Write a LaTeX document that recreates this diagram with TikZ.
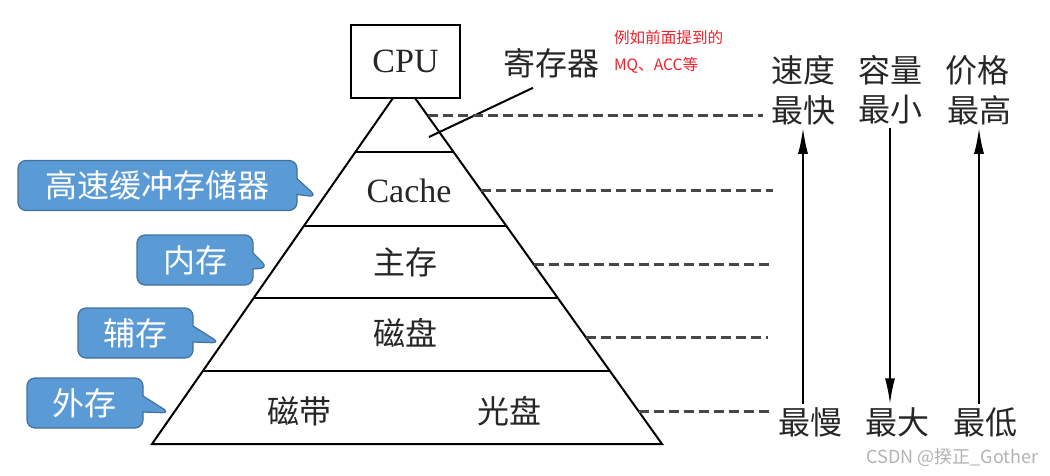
\documentclass[tikz,border=0pt]{standalone}
\usepackage{fontspec}
\setmainfont{Liberation Serif}
\newfontfamily\cjk{Noto Sans CJK SC}
\usepackage{xcolor}
\usetikzlibrary{positioning,arrows.meta,calc,shapes.callouts}
\definecolor{tagfill}{HTML}{5B9BD5}
\definecolor{tagedge}{HTML}{41719C}
\definecolor{notered}{HTML}{F0202A}

\begin{document}
\begin{tikzpicture}[x=0.5pt, y=-0.5pt,
  line width=1pt,
  big/.style={font=\fontsize{17}{19}\selectfont, text=black!85, inner sep=1pt},
  han/.style={font=\cjk\fontsize{16}{18}\selectfont, text=black!85, inner sep=1pt},
  note/.style={font=\cjk\fontsize{7.8}{9}\selectfont, text=notered, inner sep=1pt, anchor=west},
  tag/.style={rectangle callout, draw=tagedge, fill=tagfill, rounded corners=4pt, line width=0.6pt,
    text=white, font=\cjk\fontsize{16}{18}\selectfont, minimum height=25pt, callout pointer width=8pt},
  guide/.style={dash pattern=on 5pt off 2.5pt, line width=1.5pt, black!72},
  >={Latex[length=13pt,width=5pt]}]
\useasboundingbox (0,0) rectangle (1050,476);
% CPU on top of the pyramid
\node[draw, minimum width=54.5pt, minimum height=36.5pt, big] (cpu) at (405.5,61.5) {CPU};
\coordinate (tl) at (393,98);
\coordinate (tr) at (415,98);
\coordinate (bl) at (152,444);
\coordinate (br) at (662,444);
\draw (tl) -- (bl) -- (br) -- (tr);
\foreach \f in {0.156,0.370,0.578,0.789}
  \draw ($(tl)!\f!(bl)$) -- ($(tr)!\f!(br)$);
% levels
\node[han] (reg) at (551,63) {寄存器};
\coordinate (regtip) at (429,137);
\draw ([xshift=-9pt,yshift=-3.5pt]reg.south) -- (regtip);
\node[big] (cache) at (409,191) {Cache};
\node[han] (main) at (405,262) {主存};
\node[han] (disk) at (405,333) {磁盘};
\node[han] (tape) at (299,411) {磁带};
\node[han] (optic) at (509,411) {光盘};
\node[note] (note1) at (611,38) {例如前面提到的};
\node[note] (note2) at (611,65) {MQ、ACC等};
% callouts
\node[tag, minimum width=139.5pt, callout absolute pointer={(317,197)}] (cachetag) at (157.5,185.5) {高速缓冲存储器};
\node[tag, minimum width=58pt, callout absolute pointer={(268,268)}] (maintag) at (195,260) {内存};
\node[tag, minimum width=57.5pt, callout absolute pointer={(220,343)}] (auxtag) at (135.5,333) {辅存};
\node[tag, minimum width=58pt, callout absolute pointer={(170,413)}] (exttag) at (85,403) {外存};
% right side
\node[han] (speed) at (803,70) {速度};
\node[han] (cap) at (890,70) {容量};
\node[han] (price) at (977,70) {价格};
\node[han] (fast) at (803,110) {最快};
\node[han] (small) at (890,110) {最小};
\node[han] (high) at (979,110) {最高};
\node[han] (slow) at (810,422) {最慢};
\node[han] (large) at (897,422) {最大};
\node[han] (low) at (985,422) {最低};
\draw[->] (slow.north -| fast) -- (fast.south);
\draw[->] (small.south) -- (small.south |- large.north);
\draw[->] (low.north -| high) -- (high.south);
\foreach \f/\e [count=\i] in {0.052/763, 0.266/773, 0.480/770, 0.691/768, 0.905/773} {
  \coordinate (g\i) at ($(tr)!\f!(br)$);
  \path (\e,0) coordinate (x\i);
  \coordinate (e\i) at (g\i -| x\i);
  \draw[guide] (g\i) -- (e\i);
}
\node[font=\cjk\fontsize{9}{10}\selectfont, text=black!30, anchor=east] (mark) at (1046,458) {CSDN @揆正\_Gother};
\end{tikzpicture}
\end{document}
